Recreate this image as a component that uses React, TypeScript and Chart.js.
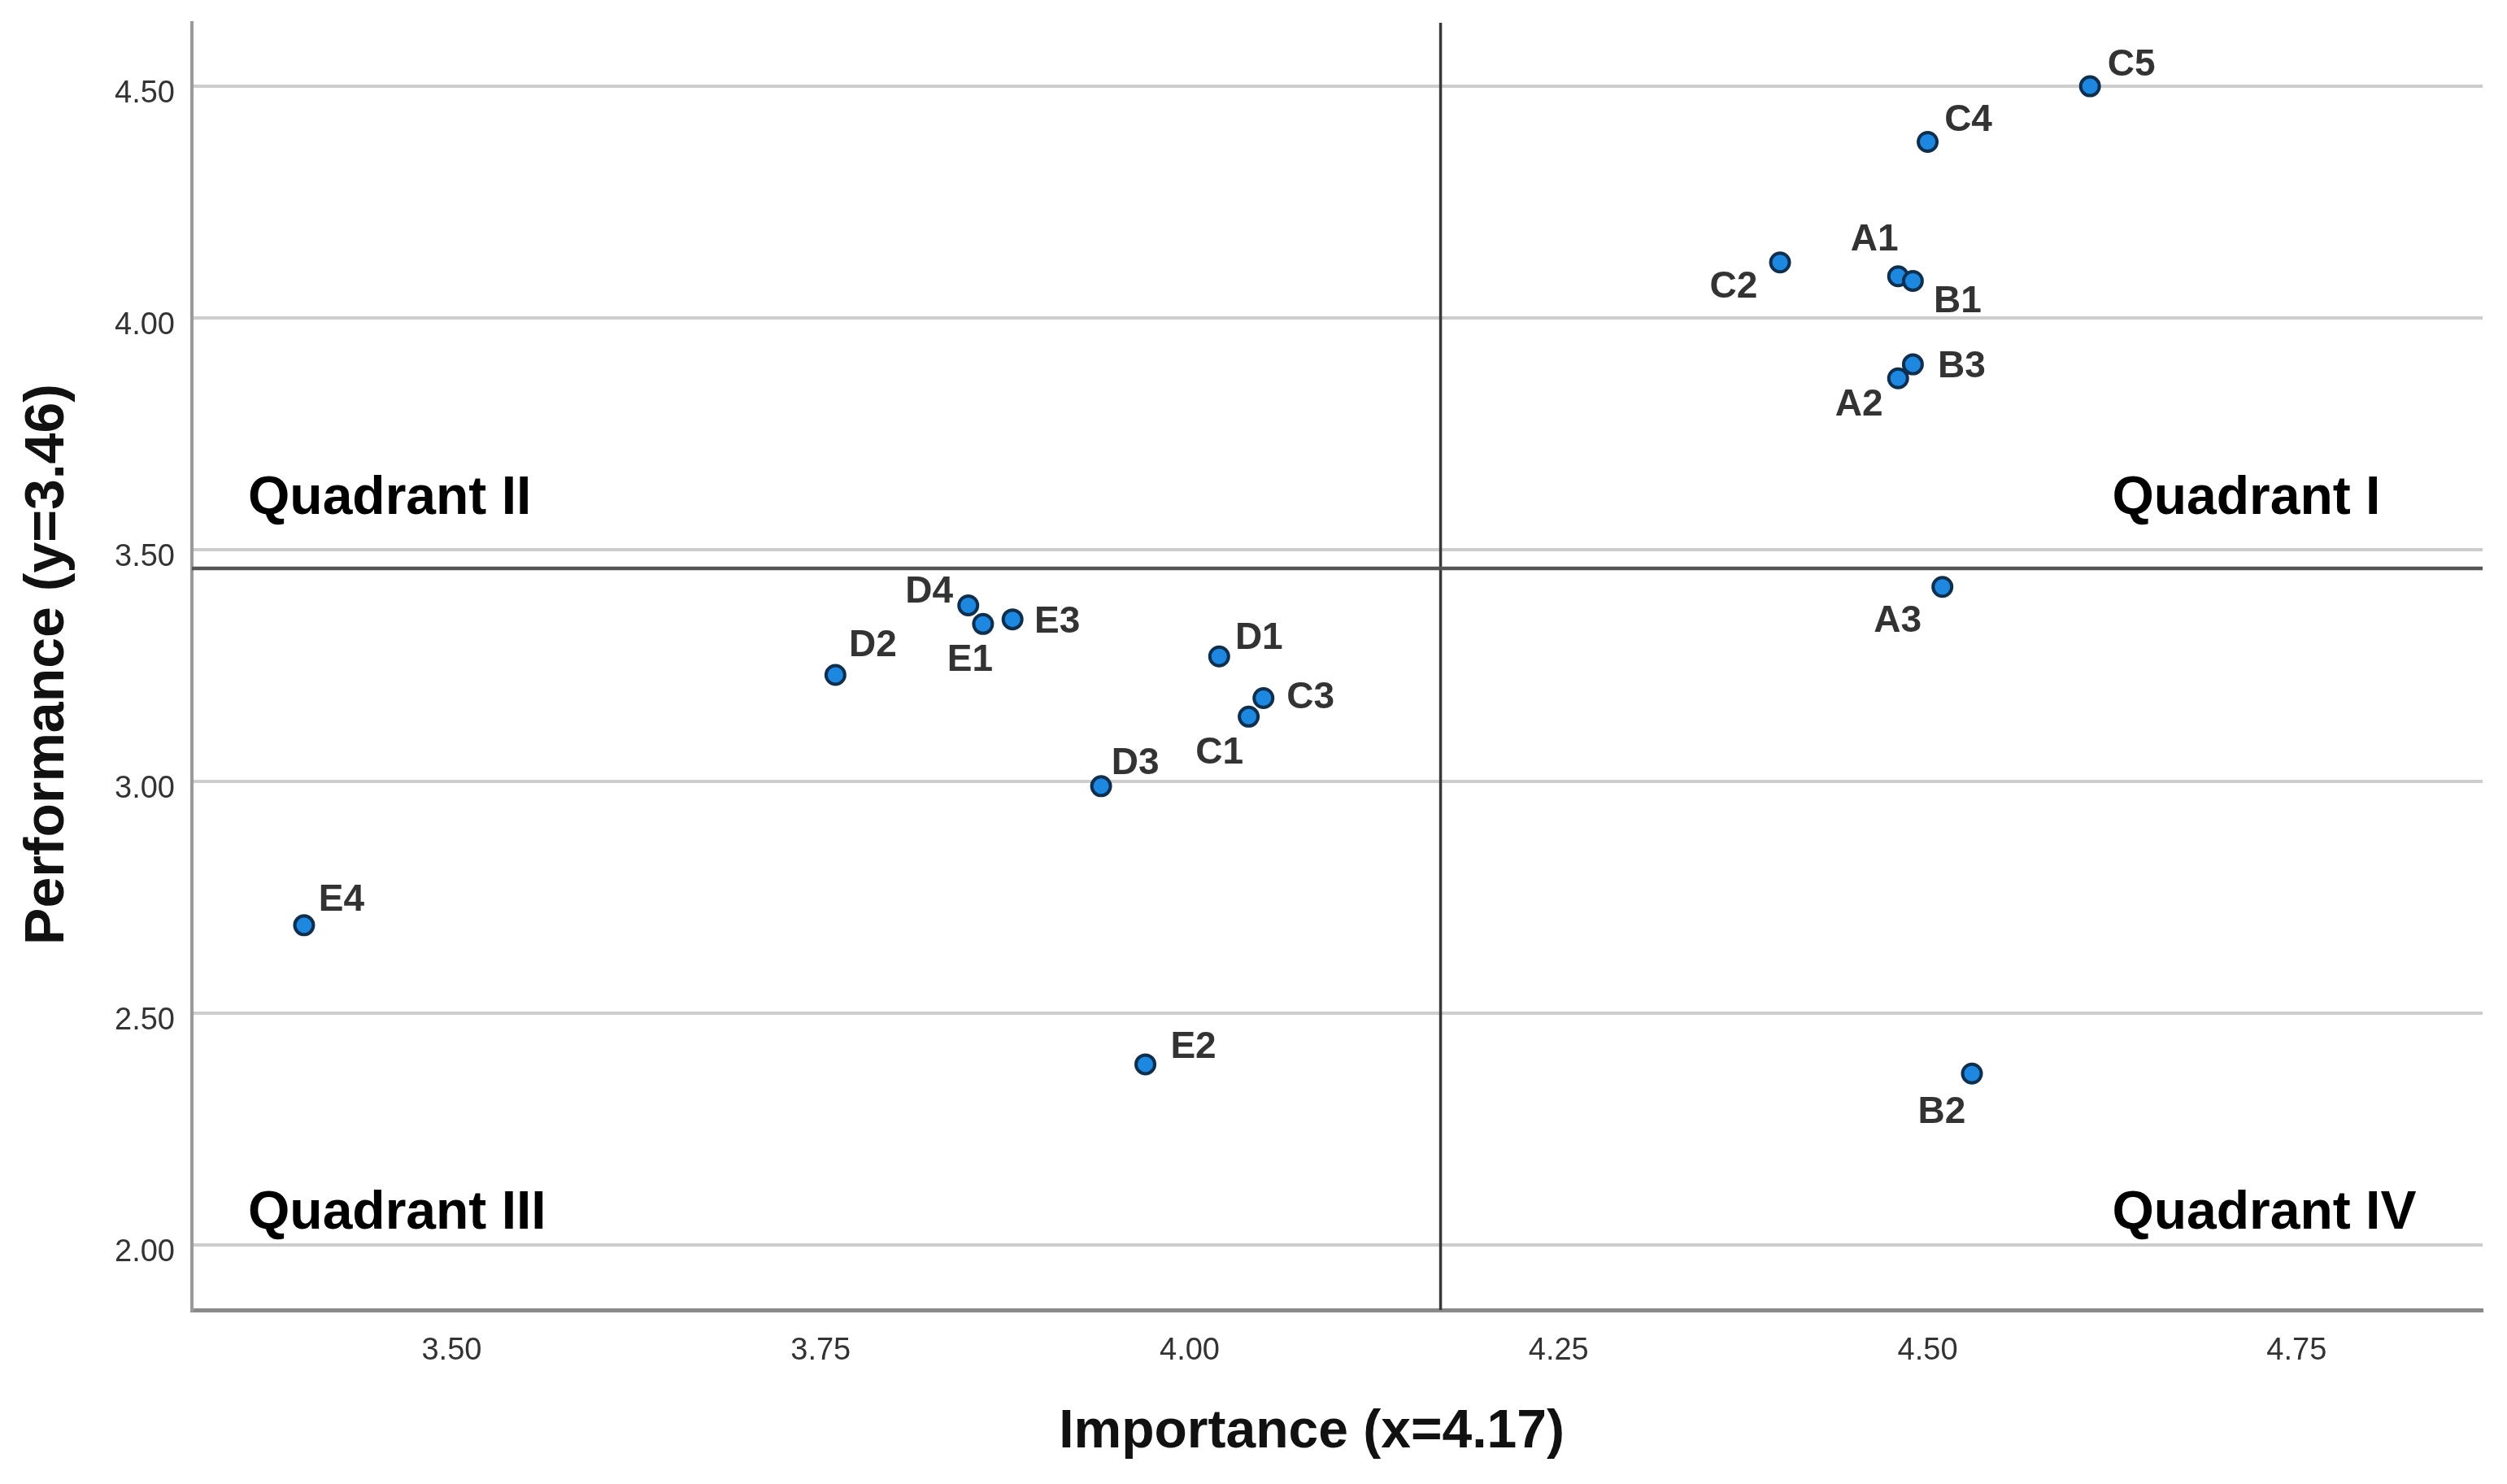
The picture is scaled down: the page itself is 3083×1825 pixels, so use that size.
import React, { useEffect, useRef } from "react";
import { Chart, registerables } from "chart.js";

Chart.register(...registerables);

// ---- data ----
const itemLabels = ["A1", "A2", "A3", "B1", "B2", "B3", "C1", "C2", "C3", "C4", "C5", "D1", "D2", "D3", "D4", "E1", "E2", "E3", "E4"];
const importance = [4.48, 4.48, 4.51, 4.49, 4.53, 4.49, 4.04, 4.40, 4.05, 4.50, 4.61, 4.02, 3.76, 3.94, 3.85, 3.86, 3.97, 3.88, 3.40];
const performance = [4.09, 3.87, 3.42, 4.08, 2.37, 3.90, 3.14, 4.12, 3.18, 4.38, 4.50, 3.27, 3.23, 2.99, 3.38, 3.34, 2.39, 3.35, 2.69];

const meanImportance = 4.17;
const meanPerformance = 3.46;

const xTickValues = [3.5, 3.75, 4.0, 4.25, 4.5, 4.75];
const yTickValues = [2.0, 2.5, 3.0, 3.5, 4.0, 4.5];

const xAxisTitle = "Importance (x=4.17)";
const yAxisTitle = "Performance (y=3.46)";

const quadrantNames = ["Quadrant I", "Quadrant II", "Quadrant III", "Quadrant IV"];

// ---- layout / style (not data) ----
const X_MIN = 3.324;
const X_MAX = 4.876;
const Y_MIN = 1.86;
const Y_MAX = 4.637;

// anchor of each quadrant label in axis units (left edge, vertical centre)
const quadrantAnchors = [
  { x: 4.625, y: 3.614 },
  { x: 3.362, y: 3.614 },
  { x: 3.362, y: 2.072 },
  { x: 4.625, y: 2.072 },
];

// label offset from point centre, in pixels (same order as itemLabels)
const labelOffsets: [number, number][] = [
  [-29, -46], [-48, 31], [-55, 41], [55, 24], [-37, 46], [60, 1], [-36, 43],
  [-57, 29], [58, -2], [50, -28], [51, -28], [49, -24], [46, -38], [42, -30],
  [-48, -18], [-16, 43], [59, -23], [55, 2], [46, -33],
];

const FONT = "'Liberation Sans', Arial, Helvetica, sans-serif";

const labelPlugin = {
  id: "pointAndQuadrantLabels",
  afterDatasetsDraw(chart: any) {
    const ctx = chart.ctx as CanvasRenderingContext2D;
    const xs = chart.scales.x;
    const ys = chart.scales.y;
    ctx.save();
    // point labels
    ctx.font = `bold 46px ${FONT}`;
    ctx.fillStyle = "#333333";
    ctx.textAlign = "center";
    ctx.textBaseline = "middle";
    const meta = chart.getDatasetMeta(0);
    meta.data.forEach((pt: any, i: number) => {
      const [dx, dy] = labelOffsets[i];
      ctx.fillText(itemLabels[i], pt.x + dx, pt.y + dy + 2);
    });
    // quadrant labels
    ctx.font = `bold 66px ${FONT}`;
    ctx.fillStyle = "#000000";
    ctx.textAlign = "left";
    quadrantNames.forEach((name, i) => {
      const a = quadrantAnchors[i];
      ctx.fillText(name, xs.getPixelForValue(a.x), ys.getPixelForValue(a.y) + 3);
    });
    ctx.restore();
  },
  afterDraw(chart: any) {
    const ctx = chart.ctx as CanvasRenderingContext2D;
    ctx.save();
    ctx.fillStyle = "#111111";
    ctx.textAlign = "center";
    ctx.textBaseline = "middle";
    // x axis title
    ctx.font = `bold 66px ${FONT}`;
    ctx.fillText(xAxisTitle, 1613, 1762);
    // y axis title
    ctx.font = `bold 68px ${FONT}`;
    ctx.translate(59, 817);
    ctx.rotate(-Math.PI / 2);
    ctx.fillText(yAxisTitle, 0, 0);
    ctx.restore();
  },
};

export default function App() {
  const canvasRef = useRef<HTMLCanvasElement | null>(null);

  useEffect(() => {
    if (!canvasRef.current) return;
    const points = importance.map((v, i) => ({ x: v, y: performance[i] }));
    const chart = new Chart(canvasRef.current, {
      type: "scatter",
      data: {
        datasets: [
          {
            type: "scatter",
            label: "Items",
            data: points,
            pointRadius: 11.5,
            pointHoverRadius: 11.5,
            pointBackgroundColor: "#1e88e0",
            pointBorderColor: "#0f2f4f",
            pointBorderWidth: 4,
            order: 0,
          } as any,
          {
            type: "line",
            label: "Mean importance",
            data: [
              { x: meanImportance, y: Y_MIN },
              { x: meanImportance, y: Y_MAX },
            ],
            borderColor: "#383838",
            borderWidth: 3.5,
            pointRadius: 0,
            fill: false,
            order: 2,
          } as any,
          {
            type: "line",
            label: "Mean performance",
            data: [
              { x: X_MIN, y: meanPerformance },
              { x: X_MAX, y: meanPerformance },
            ],
            borderColor: "#555555",
            borderWidth: 4.5,
            pointRadius: 0,
            fill: false,
            order: 1,
          } as any,
        ],
      },
      options: {
        responsive: false,
        animation: false,
        layout: { padding: { left: 0, top: 28, right: 30, bottom: 0 } },
        plugins: {
          legend: { display: false },
          tooltip: { enabled: false },
        },
        scales: {
          x: {
            type: "linear",
            min: X_MIN,
            max: X_MAX,
            afterFit: (scale: any) => {
              scale.height = 214;
              scale.paddingLeft = 0;
              scale.paddingRight = 0;
              scale.paddingTop = 0;
              scale.paddingBottom = 0;
            },
            afterBuildTicks: (scale: any) => {
              scale.ticks = xTickValues.map((v) => ({ value: v }));
            },
            grid: { display: false, drawTicks: false },
            border: { display: true, color: "#8a8a8a", width: 5 },
            ticks: {
              padding: 28,
              color: "#333333",
              font: { family: FONT, size: 38 },
              callback: (v: any) => Number(v).toFixed(2),
              maxRotation: 0,
              autoSkip: false,
            },
            title: { display: false, text: xAxisTitle },
          },
          y: {
            type: "linear",
            min: Y_MIN,
            max: Y_MAX,
            afterFit: (scale: any) => {
              scale.width = 236;
              scale.paddingLeft = 0;
              scale.paddingRight = 0;
              scale.paddingTop = 0;
              scale.paddingBottom = 0;
            },
            afterBuildTicks: (scale: any) => {
              scale.ticks = yTickValues.map((v) => ({ value: v }));
            },
            grid: { display: true, color: "#cdcdcd", lineWidth: 4, drawTicks: false },
            border: { display: true, color: "#9a9a9a", width: 4 },
            ticks: {
              padding: 21,
              labelOffset: 9,
              color: "#333333",
              font: { family: FONT, size: 38 },
              callback: (v: any) => Number(v).toFixed(2),
              autoSkip: false,
            },
            title: { display: false, text: yAxisTitle },
          },
        },
      } as any,
      plugins: [labelPlugin],
    });
    return () => chart.destroy();
  }, []);

  return (
    <div style={{ position: "absolute", left: 0, top: 0, width: 3083, height: 1825, background: "#ffffff" }}>
      <canvas ref={canvasRef} width={3083} height={1825} style={{ display: "block" }} />
    </div>
  );
}
